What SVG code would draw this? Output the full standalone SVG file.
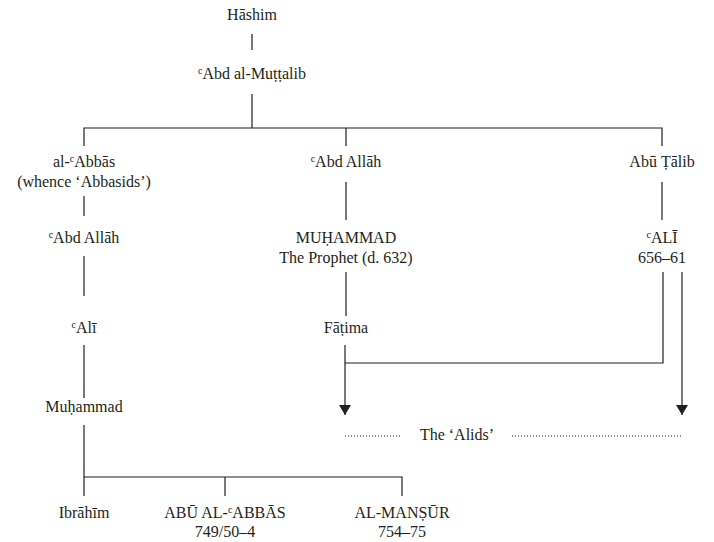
<svg xmlns="http://www.w3.org/2000/svg" width="714" height="542" viewBox="0 0 714 542">
<style>
text{font-family:"Liberation Serif",Tinos,"Times New Roman",Times,"DejaVu Serif","Noto Serif",serif;font-size:16px;fill:#231f20;text-anchor:middle}
.sup{font-size:10px}
.ln{stroke:#231f20;stroke-width:1.2;fill:none}
.dot{stroke:#231f20;stroke-width:1;stroke-dasharray:1 2;fill:none}
</style>
<defs>
<marker id="ah" viewBox="0 0 10 12" refX="10" refY="6" markerWidth="10" markerHeight="12" markerUnits="userSpaceOnUse" orient="auto">
<path d="M0,0 L10,6 L0,12 Z" fill="#231f20"/>
</marker>
</defs>
<rect width="714" height="542" fill="#fff"/>
<g id="connectors">
<path class="ln" d="M252,34 V50"/>
<path class="ln" d="M252,94 V128"/>
<path class="ln" d="M84,146 V128 H662 V146 M346,128 V146"/>
<path class="ln" d="M84,196 V216"/>
<path class="ln" d="M84,256 V296"/>
<path class="ln" d="M84,345 V398"/>
<path class="ln" d="M84,425 V477"/>
<path class="ln" d="M84,496 V477 H402 V496 M225,477 V496"/>
<path class="ln" d="M346,182 V220"/>
<path class="ln" d="M662,182 V220"/>
<path class="ln" d="M346,272 V316"/>
<path class="ln" d="M345,345 V415" marker-end="url(#ah)"/>
<path class="ln" d="M345,363 H663 V272"/>
<path class="ln" d="M682,272 V415" marker-end="url(#ah)"/>
<path class="dot" d="M345,436 H402 M512,436 H682"/>
</g>
<g id="hashim"><text x="252" y="20">Hāshim</text></g>
<g id="abd-al-muttalib"><text x="252" y="79"><tspan class="sup" dy="-5">c</tspan><tspan dy="5">Abd al-Muṭṭalib</tspan></text></g>
<g id="al-abbas"><text x="84" y="167">al-<tspan class="sup" dy="-5">c</tspan><tspan dy="5">Abbās</tspan></text><text x="84" y="187">(whence ‘Abbasids’)</text></g>
<g id="abd-allah-1"><text x="84" y="243"><tspan class="sup" dy="-5">c</tspan><tspan dy="5">Abd Allāh</tspan></text></g>
<g id="ali-1"><text x="84" y="333"><tspan class="sup" dy="-5">c</tspan><tspan dy="5">Alī</tspan></text></g>
<g id="muhammad-1"><text x="84" y="412">Muḥammad</text></g>
<g id="ibrahim"><text x="84" y="518">Ibrāhīm</text></g>
<g id="abu-al-abbas"><text x="225" y="518">ABŪ AL-<tspan class="sup" dy="-5">c</tspan><tspan dy="5">ABBĀS</tspan></text><text x="225" y="537">749/50–4</text></g>
<g id="al-mansur"><text x="402" y="518">AL-MANṢŪR</text><text x="402" y="537">754–75</text></g>
<g id="abd-allah-2"><text x="346" y="167"><tspan class="sup" dy="-5">c</tspan><tspan dy="5">Abd Allāh</tspan></text></g>
<g id="muhammad-prophet"><text x="346" y="243">MUḤAMMAD</text><text x="346" y="263">The Prophet (d. 632)</text></g>
<g id="fatima"><text x="346" y="333">Fāṭima</text></g>
<g id="abu-talib"><text x="662" y="167">Abū Ṭālib</text></g>
<g id="ali-2"><text x="662" y="243"><tspan class="sup" dy="-5">c</tspan><tspan dy="5">ALĪ</tspan></text><text x="662" y="263">656–61</text></g>
<g id="alids"><text x="457" y="440">The ‘Alids’</text></g>
</svg>
